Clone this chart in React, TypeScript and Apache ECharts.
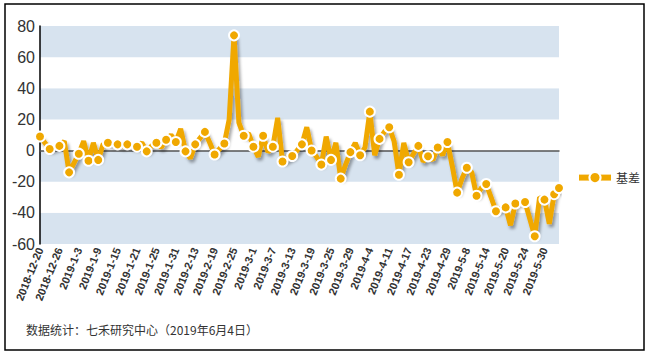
import React, { useEffect, useRef } from "react";
import * as echarts from "echarts";

const dates: string[] = [
  "2018-12-20","2018-12-21","2018-12-24","2018-12-25","2018-12-26","2018-12-27","2018-12-28",
  "2019-1-2","2019-1-3","2019-1-4","2019-1-7","2019-1-8","2019-1-9","2019-1-10","2019-1-11",
  "2019-1-14","2019-1-15","2019-1-16","2019-1-17","2019-1-18","2019-1-21","2019-1-22","2019-1-23",
  "2019-1-24","2019-1-25","2019-1-28","2019-1-29","2019-1-30","2019-1-31",
  "2019-2-1","2019-2-11","2019-2-12","2019-2-13","2019-2-14","2019-2-15","2019-2-18","2019-2-19",
  "2019-2-20","2019-2-21","2019-2-22","2019-2-25","2019-2-26","2019-2-27","2019-2-28",
  "2019-3-1","2019-3-4","2019-3-5","2019-3-6","2019-3-7","2019-3-8","2019-3-11","2019-3-12",
  "2019-3-13","2019-3-14","2019-3-15","2019-3-18","2019-3-19","2019-3-20","2019-3-21","2019-3-22",
  "2019-3-25","2019-3-26","2019-3-27","2019-3-28","2019-3-29",
  "2019-4-1","2019-4-2","2019-4-3","2019-4-4","2019-4-8","2019-4-9","2019-4-10","2019-4-11",
  "2019-4-12","2019-4-15","2019-4-16","2019-4-17","2019-4-18","2019-4-19","2019-4-22","2019-4-23",
  "2019-4-24","2019-4-25","2019-4-26","2019-4-29","2019-4-30",
  "2019-5-6","2019-5-7","2019-5-8","2019-5-9","2019-5-10","2019-5-13","2019-5-14","2019-5-15",
  "2019-5-16","2019-5-17","2019-5-20","2019-5-21","2019-5-22","2019-5-23","2019-5-24","2019-5-27",
  "2019-5-28","2019-5-29","2019-5-30","2019-5-31",
  "2019-6-3","2019-6-4",
];

const basis: number[] = [
  9, 5, 1, 2, 3, 6, -14, -8, -2, 6,
  -6.5, 5, -6, 4, 5, 4, 4, 3, 4, 3,
  2.5, 5, -0.5, 3, 5, 2, 7, 10, 5.5, 14,
  -0.5, -5, 4, 8, 12, 5, -2.5, 1, 4.5, 20,
  74, 18, 9.5, 11, 2.5, -4, 9.5, -1, 2.5, 21,
  -7, -5, -3.5, 0, 4, 15, 0, -4, -9, 9,
  -6, 5, -18, -9, -1, 5, -3, 2, 25, -3,
  7.5, 12, 15, 6, -15.5, 5, -7.5, -2, 3, -7,
  -3.7, -6, 2, -3, 5.5, -10, -27, -18, -11, -14,
  -29, -24, -21.5, -30, -39, -37, -36.5, -48, -34, -33,
  -33, -44, -55, -30, -31.5, -47, -28, -24,
];

const seriesName = "基差";
const yTicks = { min: -60, max: 80, interval: 20 };
const sourceNote = "数据统计：七禾研究中心（2019年6月4日）";

const FONT = 'Arial, "Liberation Sans", sans-serif';
const ORANGE = "#F0A800";

export default function App() {
  const ref = useRef<HTMLDivElement>(null);
  useEffect(() => {
    if (!ref.current) return;
    const chart = echarts.init(ref.current, undefined, { renderer: "svg" });
    const last = basis.length - 1;
    chart.setOption({
      animation: false,
      backgroundColor: "#fff",
      textStyle: { fontFamily: FONT },
      grid: { left: 40, right: 90, top: 26, bottom: 112, containLabel: false },
      legend: {
        show: true,
        left: 571,
        top: 166,
        itemWidth: 32,
        itemHeight: 14,
        itemGap: 6,
        lineStyle: { width: 6, color: ORANGE, shadowBlur: 0 },
        itemStyle: { color: ORANGE, borderColor: "#fff", borderWidth: 2 },
        textStyle: { fontSize: 12, color: "#333", fontFamily: '"Noto Sans CJK SC", sans-serif' },
        data: [seriesName],
      },
      xAxis: [
        {
          type: "category",
          data: dates,
          boundaryGap: false,
          position: "bottom",
          axisLine: { show: false, onZero: false },
          axisTick: { show: false },
          splitLine: { show: false },
          axisLabel: {
            interval: 3,
            rotate: 68,
            margin: 4,
            fontSize: 11,
            fontWeight: "bold",
            color: "#333",
            fontFamily: FONT,
          },
        },
        {
          type: "category",
          data: dates,
          boundaryGap: false,
          position: "bottom",
          axisLine: { show: true, onZero: true, lineStyle: { color: "#555", width: 1.5 } },
          axisTick: { show: false },
          axisLabel: { show: false },
          splitLine: { show: false },
        },
      ],
      yAxis: {
        type: "value",
        min: yTicks.min,
        max: yTicks.max,
        interval: yTicks.interval,
        axisLine: { show: true, lineStyle: { color: "#000", width: 1.5 } },
        axisTick: { show: false },
        splitLine: { show: false },
        splitArea: { show: true, areaStyle: { color: ["#D7E3EF", "#FFFFFF"] } },
        axisLabel: { fontSize: 16, color: "#333", margin: 5, fontFamily: FONT },
      },
      series: [
        {
          name: seriesName,
          type: "line",
          data: basis,
          showAllSymbol: true,
          symbol: "circle",
          symbolSize: (_v: any, p: any) =>
            p && (p.dataIndex % 2 === 0 || p.dataIndex === last) ? 10 : 0,
          itemStyle: { color: ORANGE, borderColor: "#fff", borderWidth: 2 },
          lineStyle: {
            color: ORANGE,
            width: 5,
            shadowColor: "rgba(0,0,0,0.35)",
            shadowBlur: 3,
            shadowOffsetX: 2,
            shadowOffsetY: 3,
          },
          z: 3,
        },
      ],
      graphic: [
        {
          type: "rect",
          shape: { x: 5, y: 4, width: 639, height: 346 },
          style: { fill: "none", stroke: "#000", lineWidth: 1.5 },
          silent: true,
        },
        {
          type: "text",
          left: 26,
          top: 323,
          style: {
            text: sourceNote,
            fontSize: 12,
            fill: "#333",
            fontFamily: '"Noto Sans CJK SC", Arial, sans-serif',
          },
        },
      ],
    });
    return () => chart.dispose();
  }, []);
  return (
    <div
      ref={ref}
      style={{ position: "fixed", left: 0, top: 0, width: 649, height: 356 }}
    />
  );
}
